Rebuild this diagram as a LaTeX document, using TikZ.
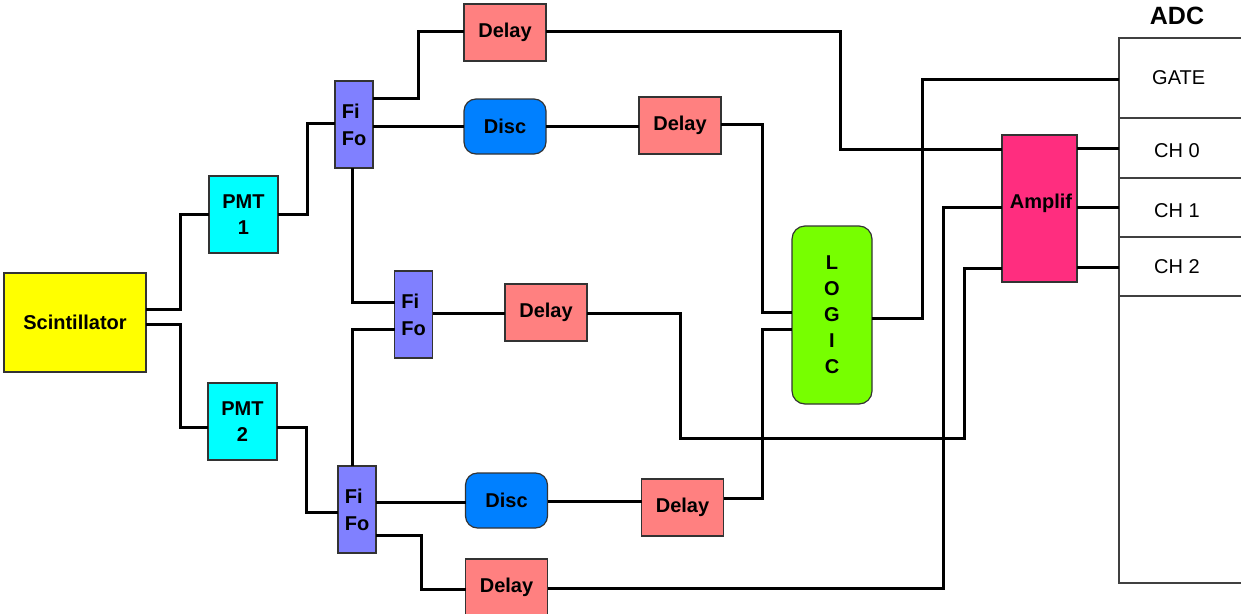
\documentclass[tikz,border=0pt]{standalone}
\usepackage{fontspec}
\setmainfont{Liberation Sans}
\usetikzlibrary{calc}
\definecolor{delayc}{HTML}{FF8080}
\definecolor{discc}{HTML}{0080FF}
\definecolor{fifoc}{HTML}{8080FF}
\definecolor{pmtc}{HTML}{00FFFF}
\definecolor{scintc}{HTML}{FFFF00}
\definecolor{logicc}{HTML}{77FF00}
\definecolor{ampc}{HTML}{FF2D7F}
\definecolor{edgec}{HTML}{333333}
\tikzset{
  blk/.style={draw=edgec, line width=1.2pt, inner sep=0pt, outer sep=0pt, font=\fontsize{20}{26}\selectfont\bfseries, align=center},
  delaybox/.style={blk, fill=delayc, minimum width=82pt, minimum height=57pt},
  discbox/.style={blk, fill=discc, rounded corners=12pt, minimum width=82pt, minimum height=55pt},
  fifobox/.style={blk, fill=fifoc, minimum width=38pt, minimum height=87pt, align=left, font=\fontsize{20}{27}\selectfont\bfseries},
  pmtbox/.style={blk, fill=pmtc, minimum width=69pt, minimum height=77pt},
  wire/.style={line width=3pt, black, line join=miter},
  adcline/.style={line width=1.3pt, draw=black!75},
  adclab/.style={anchor=west, inner sep=0pt, font=\fontsize{20}{24}\selectfont},
}
\begin{document}
\begin{tikzpicture}[x=1pt,y=-1pt]
\useasboundingbox (0,0) rectangle (1241,613);
\clip (0,0) rectangle (1241,613);
% nodes
\node[blk, fill=scintc, minimum width=142pt, minimum height=99pt] (scint) at (75,322.5) {Scintillator};
\node[pmtbox] (pmt1) at (243.5,214.5) {PMT\\1};
\node[pmtbox] (pmt2) at (242.5,421.5) {PMT\\2};
\node[fifobox] (fifo1) at (354,124.5) {Fi\\Fo};
\node[fifobox] (fifo2) at (413.5,314.5) {Fi\\Fo};
\node[fifobox] (fifo3) at (357,509.5) {Fi\\Fo};
\node[delaybox] (delay1) at (505,32.5) {Delay};
\node[discbox] (disc1) at (505,126.5) {Disc};
\node[delaybox] (delay2) at (680,125.5) {Delay};
\node[delaybox] (delay3) at (546,312.5) {Delay};
\node[discbox] (disc2) at (506.5,500.5) {Disc};
\node[delaybox] (delay4) at (682.5,507.5) {Delay};
\node[delaybox] (delay5) at (506.5,587.5) {Delay};
\node[blk, fill=logicc, rounded corners=13pt, minimum width=80pt, minimum height=178pt] (logic) at (832,315) {L\\O\\G\\I\\C};
\node[blk, fill=ampc, minimum width=75pt, minimum height=147pt] (amplif) at (1039.5,208.5) {};
\node[font=\fontsize{20}{24}\selectfont\bfseries, inner sep=0pt] (amplab) at (1041,203) {Amplif};
% ADC
\node[draw=black!75, line width=1.3pt, inner sep=0pt, outer sep=0pt, minimum width=143pt, minimum height=545pt] (adc) at (1190.5,310.5) {};
\node[font=\fontsize{25}{30}\selectfont\bfseries, inner sep=0pt] (adct) at (1177,16) {ADC};
\draw[adcline] (adc.west |- 0,118) -- (1245,118);
\draw[adcline] (adc.west |- 0,178) -- (1245,178);
\draw[adcline] (adc.west |- 0,237) -- (1245,237);
\draw[adcline] (adc.west |- 0,296) -- (1245,296);
\node[adclab] (gate) at (1152,78) {GATE};
\node[adclab] (ch0) at (1154,151) {CH 0};
\node[adclab] (ch1) at (1154,211) {CH 1};
\node[adclab] (ch2) at (1154,267) {CH 2};
% wires
\draw[wire] (scint.east |- 0,309) -- (180,309) -- (180,214) -- (pmt1.west |- 0,214);
\draw[wire] (scint.east |- 0,324) -- (180,324) -- (180,427) -- (pmt2.west |- 0,427);
\draw[wire] (pmt1.east |- 0,214) -- (307,214) -- (307,123) -- (fifo1.west |- 0,123);
\draw[wire] (pmt2.east |- 0,427) -- (306,427) -- (306,512) -- (fifo3.west |- 0,512);
\draw[wire] (fifo1.east |- 0,98) -- (418,98) -- (418,31) -- (delay1.west |- 0,31);
\draw[wire] (fifo1.east |- 0,126) -- (disc1.west |- 0,126);
\draw[wire] (fifo1.south -| 352,0) -- (352,302) -- (fifo2.west |- 0,302);
\draw[wire] (fifo3.north -| 352,0) -- (352,329) -- (fifo2.west |- 0,329);
\draw[wire] (fifo2.east |- 0,313) -- (delay3.west |- 0,313);
\draw[wire] (fifo3.east |- 0,502) -- (disc2.west |- 0,502);
\draw[wire] (fifo3.east |- 0,535) -- (421,535) -- (421,589) -- (delay5.west |- 0,589);
\draw[wire] (disc1.east |- 0,126) -- (delay2.west |- 0,126);
\draw[wire] (delay2.east |- 0,124) -- (762,124) -- (762,312) -- (logic.west |- 0,312);
\draw[wire] (disc2.east |- 0,501) -- (delay4.west |- 0,501);
\draw[wire] (delay4.east |- 0,498) -- (762,498) -- (762,329) -- (logic.west |- 0,329);
\draw[wire] (delay3.east |- 0,313) -- (680,313) -- (680,438) -- (964,438) -- (964,268) -- (amplif.west |- 0,268);
\draw[wire] (delay5.east |- 0,588) -- (943,588) -- (943,207) -- (amplif.west |- 0,207);
\draw[wire] (delay1.east |- 0,31) -- (840,31) -- (840,149) -- (amplif.west |- 0,149);
\draw[wire] (logic.east |- 0,318) -- (922,318) -- (922,79) -- (adc.west |- 0,79);
\draw[wire] (amplif.east |- 0,148) -- (adc.west |- 0,148);
\draw[wire] (amplif.east |- 0,207) -- (adc.west |- 0,207);
\draw[wire] (amplif.east |- 0,267) -- (adc.west |- 0,267);
\end{tikzpicture}
\end{document}
